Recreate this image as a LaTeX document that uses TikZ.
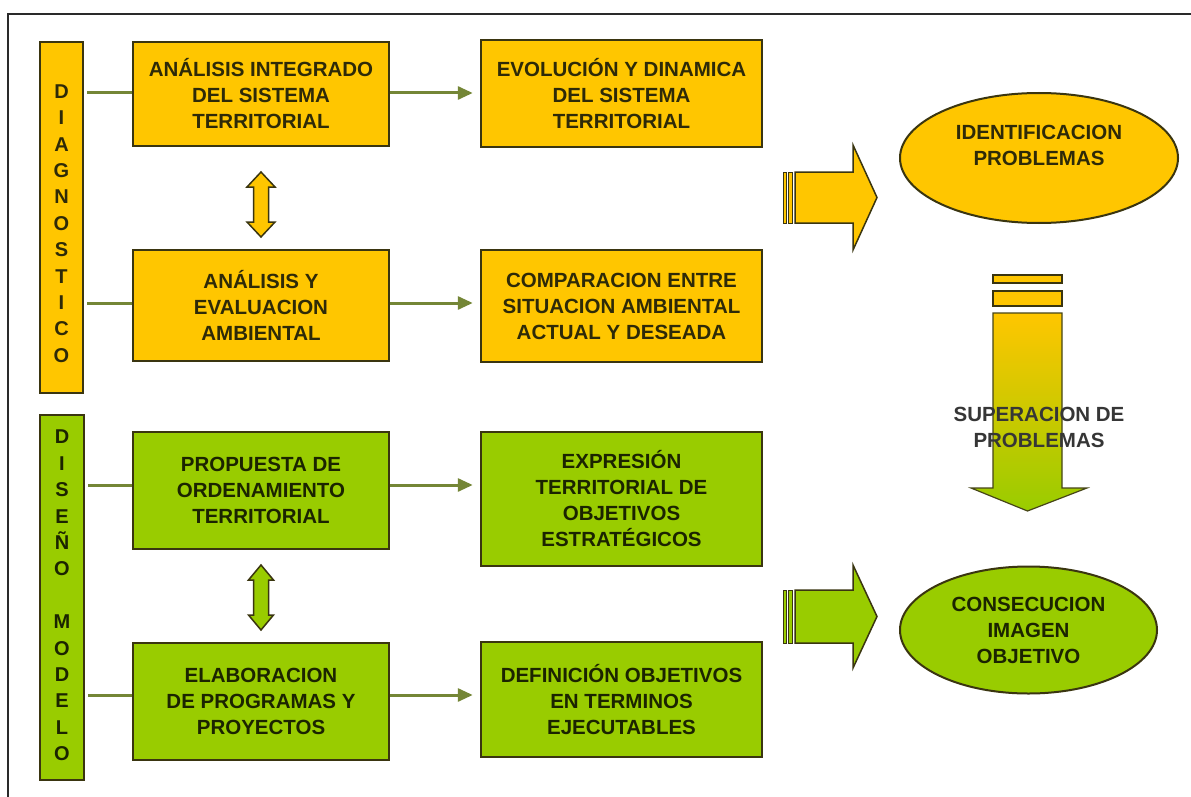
\documentclass[tikz,border=0pt]{standalone}
\usepackage{fontspec}
\setmainfont{Liberation Sans}
\usetikzlibrary{shapes.geometric,arrows.meta}
\definecolor{yel}{HTML}{FFC600}
\definecolor{grn}{HTML}{99CC00}
\definecolor{edgec}{HTML}{3A3510}
\definecolor{ytxt}{HTML}{2E2A08}
\definecolor{gtxt}{HTML}{1B2400}
\definecolor{olivec}{HTML}{748636}
\definecolor{framec}{HTML}{2A2A2A}
\definecolor{graytxt}{HTML}{363636}
\begin{document}
\begin{tikzpicture}[x=1pt,y=-1pt,
  txt/.style={font=\bfseries\fontsize{20.5}{26}\selectfont, align=center},
  ybox/.style={draw=edgec, line width=2.5pt, fill=yel, text=ytxt, txt, inner sep=0pt},
  gbox/.style={draw=edgec, line width=2.5pt, fill=grn, text=gtxt, txt, inner sep=0pt},
  abox/.style={minimum width=256pt},
  bbox/.style={minimum width=281pt},
  vbar/.style={font=\bfseries\fontsize{20}{26.4}\selectfont, align=center},
  conn/.style={draw=olivec, line width=3pt, shorten <=3pt},
  arr/.style={draw=olivec, line width=3pt, shorten >=7pt, -{Triangle[length=15pt,width=13pt]}},
  blk/.style={draw=edgec, line width=1.5pt},
  ell/.style={ellipse, draw=edgec, line width=2pt, inner sep=0pt, txt}
]
\useasboundingbox (0,0) rectangle (1191,797);
\fill[white] (0,0) rectangle (1191,797);

% frame
\coordinate (ftl) at (8,14);
\coordinate (fbl) at (8,800);
\coordinate (ftr) at (1195,14);
\draw[framec, line width=2pt] (fbl) -- (ftl) -- (ftr);

% side bars
\node[draw=edgec, line width=2.5pt, fill=yel, minimum width=43pt, minimum height=351pt, inner sep=0pt] (diag) at (61.5,217.5) {};
\node[vbar, text=ytxt] (diagt) at (61.5,223.5) {D\\I\\A\\G\\N\\O\\S\\T\\I\\C\\O};
\node[draw=edgec, line width=2.5pt, fill=grn, minimum width=44pt, minimum height=365pt, inner sep=0pt] (dis) at (62,597.5) {};
\node[vbar, text=gtxt] (dist) at (62,595.5) {D\\I\\S\\E\\Ñ\\O\\\mbox{}\\M\\O\\D\\E\\L\\O};

% boxes
\node[ybox, abox, minimum height=104pt] (a1) at (261,94) {ANÁLISIS INTEGRADO\\DEL SISTEMA\\TERRITORIAL};
\node[ybox, abox, minimum height=111pt] (a2) at (261,305.5) {ANÁLISIS Y\\EVALUACION\\AMBIENTAL};
\node[ybox, bbox, minimum height=107pt] (b1) at (621.5,93.5) {EVOLUCIÓN Y DINAMICA\\DEL SISTEMA\\TERRITORIAL};
\node[ybox, bbox, minimum height=112pt] (b2) at (621.5,306) {COMPARACION ENTRE\\SITUACION AMBIENTAL\\ACTUAL Y DESEADA};
\node[gbox, abox, minimum height=117pt] (c1) at (261,490.5) {PROPUESTA DE\\ORDENAMIENTO\\TERRITORIAL};
\node[gbox, abox, minimum height=117pt] (c2) at (261,701.5) {ELABORACION\\DE PROGRAMAS Y\\PROYECTOS};
\node[gbox, bbox, minimum height=134pt] (d1) at (621.5,499) {EXPRESIÓN\\TERRITORIAL DE\\OBJETIVOS\\ESTRATÉGICOS};
\node[gbox, bbox, minimum height=115pt] (d2) at (621.5,699.5) {DEFINICIÓN OBJETIVOS\\EN TERMINOS\\EJECUTABLES};

% connectors
\coordinate (a1l) at ([yshift=1pt]a1.west);
\coordinate (a2l) at ([yshift=2.5pt]a2.west);
\coordinate (c1l) at ([yshift=5.5pt]c1.west);
\coordinate (c2l) at ([yshift=6.5pt]c2.west);
\draw[conn] (a1l -| diag.east) -- (a1l);
\draw[conn] (a2l -| diag.east) -- (a2l);
\draw[conn] (c1l -| dis.east) -- (c1l);
\draw[conn] (c2l -| dis.east) -- (c2l);
\draw[arr] (a1l -| a1.east) -- (a1l -| b1.west);
\draw[arr] (a2l -| a2.east) -- (a2l -| b2.west);
\draw[arr] (c1l -| c1.east) -- (c1l -| d1.west);
\draw[arr] (c2l -| c2.east) -- (c2l -| d2.west);

% double block arrows
\draw[blk, fill=yel] (261,172) -- (275,187) -- (268.5,187) -- (268.5,222) -- (275,222) -- (261,237)
  -- (247,222) -- (253.5,222) -- (253.5,187) -- (247,187) -- cycle;
\draw[blk, fill=grn] (261,565) -- (273.5,580) -- (268.5,580) -- (268.5,615) -- (273.5,615) -- (261,630)
  -- (248.5,615) -- (253.5,615) -- (253.5,580) -- (248.5,580) -- cycle;

% ellipses
\node[ell, fill=yel, text=ytxt, minimum width=278pt, minimum height=130pt] (e1) at (1039,158)
  {IDENTIFICACION\\PROBLEMAS\\\mbox{}};
\node[ell, fill=grn, text=gtxt, minimum width=257pt, minimum height=127pt] (e2) at (1028.5,630)
  {CONSECUCION\\IMAGEN\\OBJETIVO};

% big right arrows (striped)
\draw[blk, line width=1pt, fill=yel] (783,172) rectangle (786,223);
\draw[blk, line width=1pt, fill=yel] (788.5,172) rectangle (792,223);
\draw[blk, fill=yel] (795,172) -- (853,172) -- (853,145) -- (877,197.5) -- (853,250) -- (853,223) -- (795,223) -- cycle;

\draw[blk, line width=1pt, fill=grn] (783,590) rectangle (786,643);
\draw[blk, line width=1pt, fill=grn] (788.5,590) rectangle (792,643);
\draw[blk, fill=grn] (795,590) -- (853,590) -- (853,565) -- (877,616.5) -- (853,668) -- (853,643) -- (795,643) -- cycle;

% down arrow (striped, gradient)
\draw[blk, line width=1.2pt, fill=yel] (993,275) rectangle (1062,283);
\draw[blk, line width=1.2pt, fill=yel] (993,291) rectangle (1062,306);
\draw[draw=edgec!80!olivec, line width=1.2pt, top color=yel, bottom color=grn]
  (993,313) -- (1062,313) -- (1062,488) -- (1087,488) -- (1027.5,511) -- (971,488) -- (993,488) -- cycle;
\node[txt, text=graytxt] (sup) at (1039,427) {SUPERACION DE\\PROBLEMAS};
\end{tikzpicture}
\end{document}
